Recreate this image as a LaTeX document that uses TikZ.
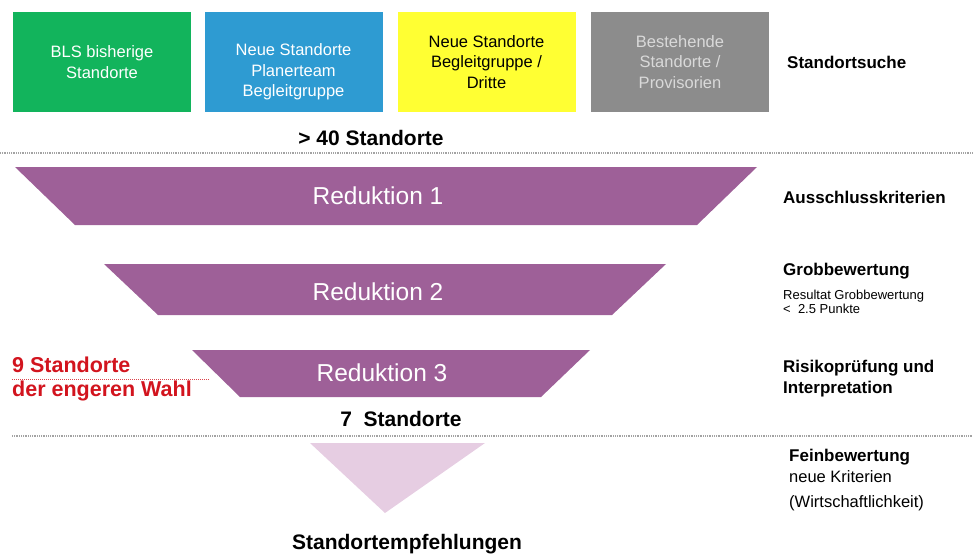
\documentclass[tikz,border=0pt]{standalone}
\usepackage{fontspec}
\setmainfont{Liberation Sans}
\definecolor{blsgreen}{RGB}{18,180,92}
\definecolor{teamblue}{RGB}{46,155,210}
\definecolor{drittyellow}{RGB}{255,255,51}
\definecolor{provgray}{RGB}{140,140,140}
\definecolor{redpurple}{RGB}{158,96,152}
\definecolor{lightpurple}{RGB}{230,205,226}
\definecolor{wahlred}{RGB}{210,20,30}

\begin{document}
\begin{tikzpicture}[x=1pt,y=-1pt,
  box/.style={minimum width=178pt,minimum height=100pt,inner sep=0pt,align=center,font=\fontsize{16.5}{20.5}\selectfont},
  boxtext/.style={inner sep=0pt,align=center,font=\fontsize{16.5}{20.5}\selectfont},
  side/.style={anchor=west,align=left,inner sep=0pt,font=\bfseries\fontsize{17}{21}\selectfont},
  count/.style={inner sep=0pt,font=\bfseries\fontsize{21}{24}\selectfont},
  stage/.style={inner sep=0pt,text=white,font=\fontsize{24.5}{28}\selectfont},
  sep/.style={provgray!80,line width=1.3pt,dash pattern=on 1pt off 0.8pt}]
\useasboundingbox (0,0) rectangle (973,554);
\node [box,fill=blsgreen,text=white] (bls) at (102,62) {BLS bisherige\\Standorte};
\node [box,fill=teamblue] (team) at (293.5,62) {};
\node [boxtext,text=white] (teamtext) at (293.5,72) {Neue Standorte\\Planerteam\\Begleitgruppe};
\node [box,fill=drittyellow] (dritte) at (486.5,62) {Neue Standorte\\Begleitgruppe /\\Dritte};
\node [box,fill=provgray,text=black!15] (prov) at (680,62) {Bestehende\\Standorte /\\Provisorien};
\node [side] (suche) at (787,62) {Standortsuche};
\node [count] (vierzig) at (371,138) {> 40 Standorte};
\draw [sep] (0,153) -- (973,153);
\fill [redpurple] (15,167) -- (757,167) -- (697,225) -- (75,225) -- cycle;
\node [stage] (red1) at (378,196) {Reduktion 1};
\node [side] (aus) at (783,197) {Ausschlusskriterien};
\fill [redpurple] (104,264) -- (666,264) -- (612,315) -- (158,315) -- cycle;
\node [stage] (red2) at (378,292) {Reduktion 2};
\node [side] (grob) at (783,271) {Grobbewertung};
\node [side,font=\fontsize{13}{14}\selectfont] (resultat) at (783,302) {Resultat Grobbewertung\\<\ \ 2.5 Punkte};
\fill [redpurple] (192,350) -- (590,350) -- (541,397) -- (240,397) -- cycle;
\node [stage] (red3) at (382,373) {Reduktion 3};
\node [side] (risiko) at (783,379) {Risikoprüfung und\\Interpretation};
\node [side,text=wahlred,font=\bfseries\fontsize{21.5}{24}\selectfont] (neun) at (12,379) {9 Standorte\\der engeren Wahl};
\draw [wahlred!80,line width=0.8pt,dash pattern=on 1pt off 1pt] (12,379) -- (210,379);
\node [count] (sieben) at (401,419) {7\ \ Standorte};
\draw [sep] (12,436) -- (973,436);
\fill [lightpurple] (310,443) -- (485,443) -- (385,513) -- cycle;
\node [side] (fein) at (789,457) {Feinbewertung};
\node [side,font=\fontsize{16.5}{25}\selectfont] (krit) at (789,490.5) {neue Kriterien\\(Wirtschaftlichkeit)};
\node [count] (empf) at (407,544) {Standortempfehlungen};
\end{tikzpicture}
\end{document}
